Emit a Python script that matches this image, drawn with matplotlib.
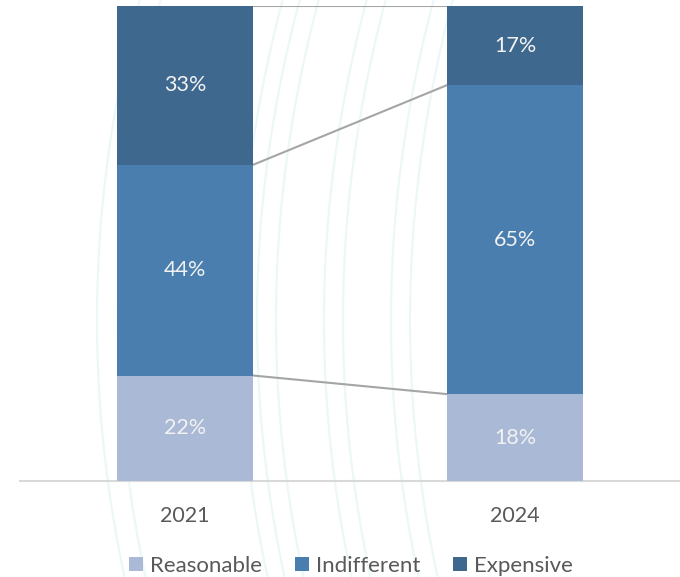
import numpy as np
import matplotlib
matplotlib.use("Agg")
import matplotlib.pyplot as plt
from matplotlib.patches import Patch

plt.rcParams['font.family'] = ['Lato', 'DejaVu Sans']

years = ["2021", "2024"]
series = ["Reasonable", "Indifferent", "Expensive"]
reasonable = [22.2, 18.3]
indifferent = [44.4, 65.0]
expensive = [33.4, 16.7]
colors = ["#A9B9D6", "#4A7EAF", "#3F688F"]

W, H = 680, 577
fig = plt.figure(figsize=(W / 100, H / 100), dpi=100)

# faint decorative background arcs
bg = fig.add_axes([0, 0, 1, 1], zorder=0)
bg.set_xlim(0, W)
bg.set_ylim(H, 0)
bg.axis("off")
yy = np.linspace(0, H, 200)
for x0 in [97, 118, 240, 257, 276, 324, 343, 391, 410]:
    bg.plot(x0 + (yy - 320) ** 2 / 2400, yy, color="#EDF7F8", lw=1.6)

ax = fig.add_axes([20 / W, 96 / H, 660 / W, 475 / H], zorder=1)
ax.patch.set_alpha(0)
x = np.arange(len(years))
width = 0.415
vals = [reasonable, indifferent, expensive]
bottoms = np.zeros(len(years))
tops = []
for name, v, c in zip(series, vals, colors):
    v = np.array(v)
    ax.bar(x, v, width, bottom=bottoms, color=c, edgecolor="none", zorder=3, label=name)
    for xi, b, val in zip(x, bottoms, v):
        ax.text(xi, b + val / 2, f"{val:.0f}%", ha="center", va="center",
                color="#F2F2F2", fontsize=15.5, zorder=4)
    bottoms = bottoms + v
    tops.append(bottoms.copy())

for t in tops:
    ax.plot([x[0] + width / 2, x[1] - width / 2], [t[0], t[1]],
            color="#A5A5A5", lw=1.5, zorder=2)

ax.set_xlim(-0.5, 1.5)
ax.set_ylim(0, 100)
for s in ["top", "right", "left"]:
    ax.spines[s].set_visible(False)
ax.spines["bottom"].set_color("#D9D9D9")
ax.spines["bottom"].set_linewidth(1.5)
ax.set_yticks([])
ax.set_xticks(x)
ax.set_xticklabels(years, fontsize=15.5, color="#595959")
ax.tick_params(axis="x", length=0, pad=18)

handles = [Patch(facecolor=c, edgecolor="none") for c in colors]
fig.legend(handles, series, loc="center", bbox_to_anchor=(351 / W, 1 - 566 / H),
           ncol=3, frameon=False, fontsize=16, labelcolor="#595959",
           handlelength=0.62, handleheight=0.62, handletextpad=0.3,
           columnspacing=1.5, borderpad=0, borderaxespad=0)

fig.savefig("out.png", dpi=100)
